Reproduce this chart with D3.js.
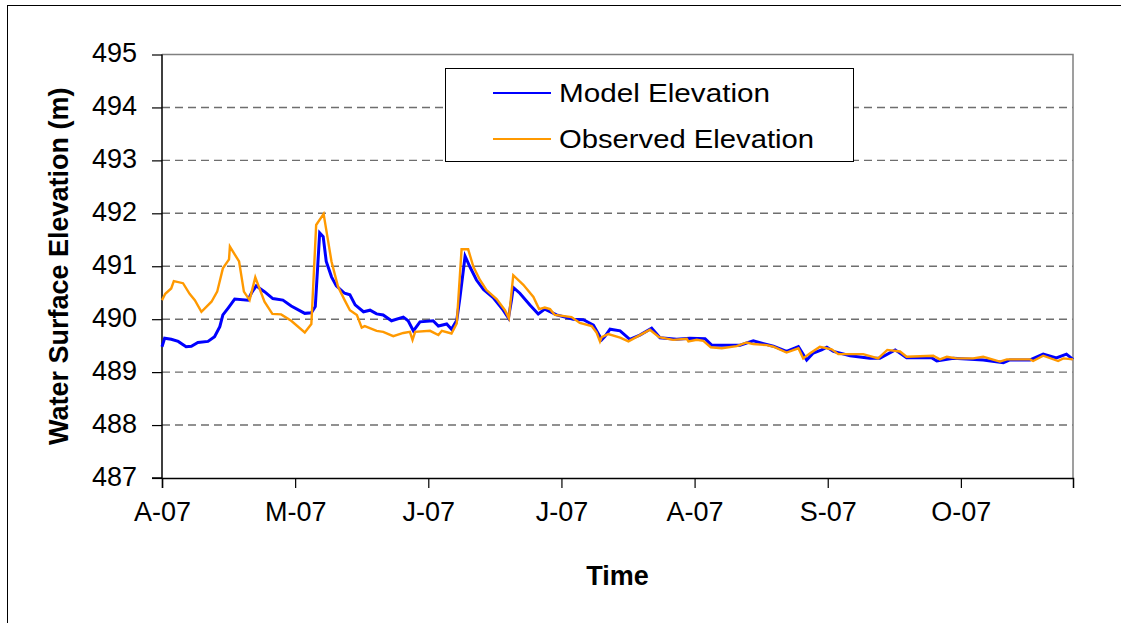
<!DOCTYPE html>
<html>
<head>
<meta charset="utf-8">
<script src="https://cdn.jsdelivr.net/npm/d3@7"></script>
<style>
  body { margin: 0; background: #fff; }
  text { font-family: "Liberation Sans", Arial, sans-serif; fill: #000; }
</style>
</head>
<body>
<div id="chart"></div>
<script>
// days since 1 Apr 2007, elevation (m)
var modelDays = [0, 0.6, 2.1, 3.7, 5.5, 6.7, 8.2, 10.5, 12.0, 13.2, 13.9, 15.1, 16.6, 19.6, 20.4, 21.5, 23.4, 25.3, 27.6, 29.5,
  32.6, 34.1, 35.0, 35.5, 36.0, 36.8, 37.5, 38.7, 39.8, 41.7, 42.9, 44.1, 46.0, 47.5, 49.0, 50.5, 52.4, 55.1, 56.2, 57.4,
  58.9, 61.9, 63.1, 65.0, 66.1, 67.3, 68.0, 69.2, 70.3, 71.8, 73.4, 75.6, 77.9, 79.1, 79.8, 80.2, 81.7, 84.0, 85.9, 87.4,
  90.1, 93.9, 96.2, 98.5, 100.4, 101.1, 102.3, 104.6, 106.8, 109.1, 111.8, 113.7, 117.5, 120.5, 124.0, 125.5, 132.0, 135.0,
  139.6, 142.6, 145.3, 147.2, 148.7, 150.6, 151.8, 153.3, 157.1, 161.6, 163.9, 167.4, 170.0, 175.7, 176.9, 180.7, 187.5,
  192.1, 193.6, 198.2, 201.2, 204.2, 206.5, 208];
var modelElev = [489.48, 489.64, 489.62, 489.58, 489.48, 489.49, 489.56, 489.58, 489.67, 489.86, 490.08, 490.21, 490.38, 490.36, 490.49, 490.63, 490.52, 490.39, 490.36, 490.25,
  490.11, 490.12, 490.24, 490.93, 491.63, 491.56, 491.09, 490.80, 490.63, 490.49, 490.46, 490.27, 490.14, 490.17, 490.10, 490.08, 489.97, 490.04, 489.97, 489.78,
  489.95, 489.97, 489.87, 489.91, 489.81, 489.98, 490.39, 491.19, 490.99, 490.74, 490.56, 490.41, 490.17, 490.02, 490.36, 490.60, 490.49, 490.27, 490.10, 490.19,
  490.08, 490.00, 489.99, 489.89, 489.61, 489.67, 489.81, 489.78, 489.62, 489.70, 489.83, 489.65, 489.62, 489.64, 489.63, 489.51, 489.51, 489.59,
  489.49, 489.39, 489.48, 489.23, 489.36, 489.42, 489.47, 489.39, 489.31, 489.26, 489.26, 489.42, 489.27, 489.27, 489.21, 489.26, 489.23,
  489.18, 489.23, 489.23, 489.34, 489.27, 489.34, 489.24];

var obsDays = [0, 0.75, 2.1, 2.7, 4.8, 6.3, 7.5, 9.0, 11.3, 12.6, 13.9, 15.3, 15.5, 17.6, 18.7, 20.0, 21.3, 23.4, 25.2, 27.2,
  29.5, 32.6, 34.1, 35.2, 36.9, 38.7, 40.2, 41.7, 42.9, 44.5, 45.6, 46.3, 49.0, 50.5, 52.8, 55.1, 56.6, 57.2, 57.8, 61.2,
  63.1, 63.9, 66.1, 67.3, 68.4, 69.9, 71.1, 72.6, 74.1, 76.4, 78.3, 79.2, 80.2, 82.5, 84.8, 86.1, 87.4, 88.6, 89.7, 93.5,
  95.4, 98.1, 99.2, 100.0, 100.4, 101.9, 104.6, 106.5, 108.7, 111.4, 113.5, 116.7, 119.8, 120.2, 122.1, 123.6, 125.3, 127.8,
  131.2, 133.5, 135.0, 138.1, 139.6, 142.6, 145.3, 146.4, 147.9, 150.2, 152.9, 154.4, 160.1, 163.5, 165.6, 168.5, 170.0,
  176.1, 177.6, 179.2, 181.4, 185.2, 187.5, 191.3, 192.9, 198.2, 198.9, 201.2, 204.6, 205.8, 208];
var obsElev = [490.36, 490.48, 490.58, 490.72, 490.68, 490.48, 490.36, 490.14, 490.33, 490.52, 490.96, 491.13, 491.37, 491.09, 490.52, 490.36, 490.79, 490.33, 490.10, 490.09,
  489.97, 489.75, 489.91, 491.78, 491.99, 491.09, 490.61, 490.36, 490.17, 490.08, 489.84, 489.87, 489.78, 489.76, 489.68, 489.74, 489.76, 489.61, 489.76, 489.78,
  489.70, 489.78, 489.73, 489.92, 491.32, 491.32, 490.99, 490.74, 490.55, 490.38, 490.17, 490.02, 490.83, 490.65, 490.42, 490.19, 490.22, 490.19, 490.08, 490.04,
  489.93, 489.87, 489.75, 489.58, 489.66, 489.72, 489.65, 489.58, 489.68, 489.80, 489.66, 489.61, 489.63, 489.58, 489.61, 489.59, 489.47, 489.45,
  489.49, 489.56, 489.53, 489.51, 489.48, 489.37, 489.45, 489.26, 489.35, 489.48, 489.43, 489.34, 489.34, 489.26, 489.42, 489.39, 489.29,
  489.31, 489.24, 489.29, 489.26, 489.26, 489.29, 489.20, 489.24, 489.24, 489.21, 489.31, 489.21, 489.26, 489.24];

var monthLabels = ["A-07", "M-07", "J-07", "J-07", "A-07", "S-07", "O-07"];
var monthTickDays = [0, 30.4, 60.8, 91.2, 121.6, 152.0, 182.4];
var yTicks = [487, 488, 489, 490, 491, 492, 493, 494, 495];
var seriesNames = ["Model Elevation", "Observed Elevation"];
var seriesColors = ["#0000ff", "#ff9900"];

var W = 1121, H = 623;
var plot = {left: 162, right: 1073, top: 54.5, bottom: 478};

var svg = d3.select("#chart").append("svg")
    .attr("width", W)
    .attr("height", H);

// outer chart frame (cropped on right / bottom)
svg.append("rect")
    .attr("x", 7.5).attr("y", 5.5)
    .attr("width", W + 20).attr("height", H + 20)
    .attr("fill", "#fff")
    .attr("stroke", "#000")
    .attr("stroke-width", 1);

var x = d3.scaleLinear().domain([0, 208]).range([plot.left, plot.right]);
var y = d3.scaleLinear().domain([487, 495]).range([plot.bottom, plot.top]);

// gridlines
svg.append("g").selectAll("line")
    .data(yTicks.slice(1, -1))
    .enter().append("line")
    .attr("x1", plot.left).attr("x2", plot.right)
    .attr("y1", function(d){ return y(d); })
    .attr("y2", function(d){ return y(d); })
    .attr("stroke", "#6e6e6e")
    .attr("stroke-width", 1.4)
    .attr("stroke-dasharray", "8,5");

// plot border (top / right in grey)
svg.append("path")
    .attr("d", "M" + plot.left + "," + plot.top + "H" + plot.right + "V" + plot.bottom)
    .attr("fill", "none")
    .attr("stroke", "#808080")
    .attr("stroke-width", 1.5);

// axes
var yAxis = d3.axisLeft(y).tickValues(yTicks).tickSize(10).tickPadding(15).tickFormat(d3.format("d"));
var gy = svg.append("g")
    .attr("transform", "translate(" + plot.left + ",0)")
    .call(yAxis);

var xAxis = d3.axisBottom(x).tickValues(monthTickDays).tickSize(10).tickPadding(14)
    .tickFormat(function(d, i){ return monthLabels[i]; });
var gx = svg.append("g")
    .attr("transform", "translate(0," + plot.bottom + ")")
    .call(xAxis);

[gx, gy].forEach(function(g){
  g.select(".domain").attr("stroke", "#000").attr("stroke-width", 1.5);
  g.selectAll(".tick line").attr("stroke", "#000").attr("stroke-width", 1.2);
  g.selectAll(".tick text")
      .style("font-family", "'Liberation Sans', Arial, sans-serif")
      .style("font-size", "27px")
      .attr("fill", "#000");
});
gy.select(".domain").attr("d", "M-10," + plot.bottom + "H0V" + plot.top);
gy.selectAll(".tick text").attr("dy", "0.27em");
gx.selectAll(".tick text").attr("dy", "0.71em");

// series
var line = d3.line()
    .x(function(d){ return x(d[0]); })
    .y(function(d){ return y(d[1]); });

var modelData = d3.zip(modelDays, modelElev);
var obsData = d3.zip(obsDays, obsElev);

svg.append("path")
    .datum(modelData)
    .attr("d", line)
    .attr("fill", "none")
    .attr("stroke", seriesColors[0])
    .attr("stroke-width", 3);

svg.append("path")
    .datum(obsData)
    .attr("d", line)
    .attr("fill", "none")
    .attr("stroke", seriesColors[1])
    .attr("stroke-width", 2.4);

// axis titles
svg.append("text")
    .attr("transform", "translate(68," + ((plot.top + plot.bottom) / 2) + ") rotate(-90)")
    .attr("text-anchor", "middle")
    .style("font-size", "27px")
    .style("font-weight", "bold")
    .text("Water Surface Elevation (m)");

svg.append("text")
    .attr("x", (plot.left + plot.right) / 2)
    .attr("y", 585)
    .attr("text-anchor", "middle")
    .style("font-size", "27px")
    .style("font-weight", "bold")
    .text("Time");

// legend
var legend = svg.append("g");
legend.append("rect")
    .attr("x", 445.5).attr("y", 68.5)
    .attr("width", 408).attr("height", 93)
    .attr("fill", "#fff")
    .attr("stroke", "#000")
    .attr("stroke-width", 1);

var legendTextWidth = [211, 255];
var items = legend.selectAll("g.item")
    .data(seriesNames)
    .enter().append("g")
    .attr("class", "item")
    .attr("transform", function(d, i){ return "translate(493," + (93 + i * 46) + ")"; });

items.append("line")
    .attr("x1", 0).attr("x2", 58)
    .attr("stroke", function(d, i){ return seriesColors[i]; })
    .attr("stroke-width", 2);

items.append("text")
    .attr("x", 66)
    .attr("dy", "0.36em")
    .attr("textLength", function(d, i){ return legendTextWidth[i]; })
    .attr("lengthAdjust", "spacingAndGlyphs")
    .style("font-size", "26px")
    .text(function(d){ return d; });
</script>
</body>
</html>
